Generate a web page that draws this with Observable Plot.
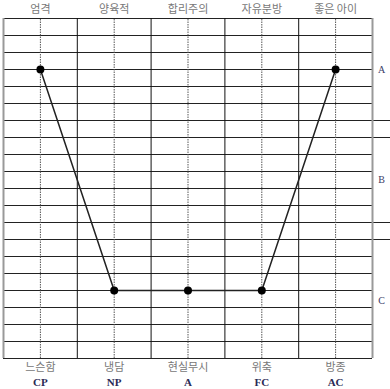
<!DOCTYPE html>
<html><head><meta charset="utf-8">
<script src="https://cdn.jsdelivr.net/npm/d3@7"></script>
<script src="https://cdn.jsdelivr.net/npm/@observablehq/plot@0.6"></script>
<style>body{margin:0;background:#fff}</style>
</head><body><div id="chart"></div>
<script>
const topLabels = ["엄격", "양육적", "합리주의", "자유분방", "좋은 아이"];
const bottomLabels = ["느슨함", "냉담", "현실무시", "위축", "방종"];
const codes = ["CP", "NP", "A", "FC", "AC"];
const values = [17, 4, 4, 4, 17];
const zones = ["A", "B", "C"];
const zonePos = [17, 10.5, 3.4];
const zoneBreaks = [14, 13, 8, 7];
const rows = 20;

const cols = topLabels.map((t, i) => ({i, x: i + 0.5, top: t, bottom: bottomLabels[i], code: codes[i], v: values[i]}));
const hLines = d3.range(0, rows + 1);
const vInner = [1, 2, 3, 4];

const plot = Plot.plot({
  width: 390, height: 389,
  marginLeft: 3, marginRight: 18, marginTop: 18, marginBottom: 31,
  x: {domain: [0, 5], axis: null},
  y: {domain: [0, rows], axis: null},
  marks: [
    Plot.ruleY(hLines, {y: d => d, x1: 0, x2: 5, stroke: "#222", strokeWidth: 1}),
    Plot.ruleY(zoneBreaks, {y: d => d, x1: 5, x2: 5.25, stroke: "#222", strokeWidth: 1}),
    Plot.ruleX(cols, {x: "x", y1: 0, y2: rows, stroke: "#555", strokeWidth: 1, strokeDasharray: "1.5,1"}),
    Plot.ruleX(vInner, {x: d => d, y1: 0, y2: rows, stroke: "#111", strokeWidth: 1}),
    Plot.ruleX([0, 5], {x: d => d, y1: 0, y2: rows, stroke: "#999", strokeWidth: 2}),
    Plot.line(cols, {x: "x", y: "v", stroke: "#222", strokeWidth: 1.5}),
    Plot.dot(cols, {x: "x", y: "v", r: 4, fill: "#000"}),
    Plot.text(cols, {x: "x", y: rows, text: "top", dy: -9, fill: "#777", fontSize: 11, fontFamily: "Noto Sans CJK KR"}),
    Plot.text(cols, {x: "x", y: 0, text: "bottom", dy: 9, fill: "#777", fontSize: 11, fontFamily: "Noto Sans CJK KR"}),
    Plot.text(cols, {x: "x", y: 0, text: "code", dy: 24, fill: "#2a2a55", fontSize: 11, fontWeight: "bold", fontFamily: "Liberation Serif", letterSpacing: "2px"}),
    Plot.text(zones, {x: 5, y: (d, i) => zonePos[i], text: d => d, dx: 9, fill: "#3a3a66", fontSize: 10, fontFamily: "Liberation Serif"})
  ]
});
document.getElementById("chart").appendChild(plot);
</script>
</body></html>
